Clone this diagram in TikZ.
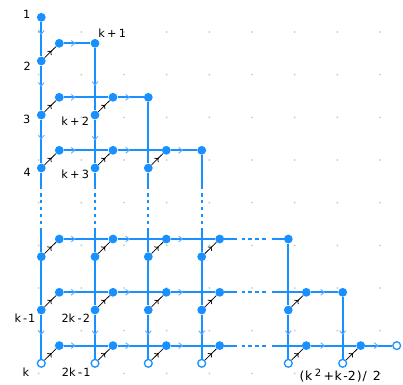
\documentclass[tikz,border=0pt]{standalone}
\usepackage{fontspec}
\setmainfont{DejaVu Sans}
\usetikzlibrary{arrows.meta,decorations.markings}
\definecolor{lineblue}{RGB}{24,144,255}
\definecolor{chevblue}{RGB}{95,172,255}
\definecolor{dotgray}{RGB}{200,200,200}
\pgfdeclarelayer{bg}
\pgfsetlayers{bg,main}
\tikzset{
  dotn/.style={circle,fill=lineblue,inner sep=0pt,minimum size=8.8pt},
  opn/.style={circle,draw=lineblue,fill=white,line width=1.3pt,inner sep=0pt,minimum size=7.8pt},
  bline/.style={draw=lineblue,line width=2.2pt},
  bdash/.style={draw=lineblue,line width=2.2pt,dash pattern=on 3.5pt off 3.4pt},
  diag/.style={draw=black,line width=0.75pt,postaction={decorate},
    decoration={markings,mark=at position 0.62 with {\arrow{To[length=3.5pt,width=6pt]}}}},
  chev/.style={draw=chevblue,line width=0.9pt},
  lab/.style={font=\fontsize{11.3}{11.3}\selectfont,anchor=base,inner sep=0pt},
  chevr/.pic={\draw[chev] (-1.8,-2.9) -- (1.8,0) -- (-1.8,2.9);},
  chevd/.pic={\draw[chev] (-2.9,-1.8) -- (0,1.8) -- (2.9,-1.8);},
}
\begin{document}
\begin{tikzpicture}[x=1pt,y=-1pt]
\useasboundingbox (0,0) rectangle (403,384);
% ---- nodes
\node[dotn] (n1) at (41.3,17.3) {};
\node[dotn] (L20) at (41.3,61) {};
\node[dotn] (U20) at (59.3,43.3) {};
\node[dotn] (E2) at (95,43.3) {};
\node[dotn] (L30) at (41.3,115) {};
\node[dotn] (L31) at (95,115) {};
\node[dotn] (U30) at (59.3,97.3) {};
\node[dotn] (U31) at (113,97.3) {};
\node[dotn] (E3) at (148.3,97.3) {};
\node[dotn] (L40) at (41.3,168) {};
\node[dotn] (L41) at (95,168) {};
\node[dotn] (L42) at (148.3,168) {};
\node[dotn] (U40) at (59.3,150.3) {};
\node[dotn] (U41) at (113,150.3) {};
\node[dotn] (U42) at (166.3,150.3) {};
\node[dotn] (E4) at (201.7,150.3) {};
\foreach \j/\x in {0/41.3,1/95,2/148.3,3/201.7} {
  \node[dotn] (LA\j) at (\x,256.7) {};
  \node[dotn] (UA\j) at (\x+18,239) {};
}
\node[dotn] (EA) at (288.3,239) {};
\foreach \j/\x in {0/41.3,1/95,2/148.3,3/201.7,4/288.3} {
  \node[dotn] (LB\j) at (\x,310) {};
  \node[dotn] (UB\j) at (\x+18,292.3) {};
}
\node[dotn] (EB) at (342.7,292.3) {};
\foreach \j/\x in {0/41.3,1/95,2/148.3,3/201.7,4/288.3,5/342.7} {
  \node[opn] (LC\j) at (\x,363.3) {};
  \node[dotn] (UC\j) at (\x+18,345.6) {};
}
\node[opn] (EC) at (396.7,345.6) {};
% ---- helper coordinates for dotted parts
\foreach \j/\x in {0/41.3,1/95,2/148.3,3/201.7} {
  \coordinate (Va\j) at (\x,189);
  \coordinate (Vb\j) at (\x,193);
  \coordinate (Vc\j) at (\x,224.1);
  \coordinate (Vd\j) at (\x,227.5);
}
\foreach \r/\y in {A/239,B/292.3,C/345.6} {
  \coordinate (Ha\r) at (237,\y);
  \coordinate (Hb\r) at (241.5,\y);
  \coordinate (Hc\r) at (266.3,\y);
  \coordinate (Hd\r) at (271.5,\y);
}
% ---- labels
\node[lab] (t1) at (26.7,18.3) {1};
\node[lab] (t2) at (27.3,70.7) {2};
\node[lab] (t3) at (26.7,123.3) {3};
\node[lab] (t4) at (27.3,176.7) {4};
\node[lab] (tk1) at (112.2,37.7) {k\kern2.3pt+\kern2.3pt1};
\node[lab] (tk2) at (75.2,125) {k\kern2.3pt+\kern2.3pt2};
\node[lab] (tk3) at (75.2,178.3) {k\kern2.3pt+\kern2.3pt3};
\node[lab] (tkm1) at (25,322.3) {k\kern2pt-\kern1pt1};
\node[lab] (t2k2) at (75.8,322.3) {2k\kern2.3pt-\kern1.3pt2};
\node[lab] (tk) at (26,376.7) {k};
\node[lab] (t2k1) at (76.2,376.7) {2k\kern2.3pt-\kern1.3pt1};
\node[lab,anchor=base west,font=\fontsize{12.5}{12.5}\selectfont] (tfin) at (299.5,380.7)
  {(\kern0.5pt k\kern2.5pt\raisebox{4pt}{\fontsize{10}{10}\selectfont 2}\kern2.5pt+\kern0.5pt k\kern1.5pt-2\kern1pt)\kern1pt/\kern6pt2};
% ---- background drawing
\begin{pgfonlayer}{bg}
\foreach \i in {0,...,8} \foreach \j in {0,...,8}
  \fill[dotgray] (38.7+42.67*\i,32+42.67*\j) circle (1);
% columns
\draw[bline] (n1) -- (L20) -- (L30) -- (L40) -- (Va0);
\draw[bline] (E2) -- (L31) -- (L41) -- (Va1);
\draw[bline] (E3) -- (L42) -- (Va2);
\draw[bline] (E4) -- (Va3);
\foreach \j in {0,1,2,3} \draw[bdash] (Vb\j) -- (Vc\j);
\draw[bline] (Vd0) -- (LA0) -- (LB0) -- (LC0);
\draw[bline] (Vd1) -- (LA1) -- (LB1) -- (LC1);
\draw[bline] (Vd2) -- (LA2) -- (LB2) -- (LC2);
\draw[bline] (Vd3) -- (LA3) -- (LB3) -- (LC3);
\draw[bline] (EA) -- (LB4) -- (LC4);
\draw[bline] (EB) -- (LC5);
% rows
\draw[bline] (U20) -- (E2);
\draw[bline] (U30) -- (U31) -- (E3);
\draw[bline] (U40) -- (U41) -- (U42) -- (E4);
\draw[bline] (UA0) -- (UA1) -- (UA2) -- (UA3) -- (HaA);
\draw[bline] (UB0) -- (UB1) -- (UB2) -- (UB3) -- (HaB);
\draw[bline] (UC0) -- (UC1) -- (UC2) -- (UC3) -- (HaC);
\foreach \r in {A,B,C} \draw[bdash] (Hb\r) -- (Hc\r);
\draw[bline] (HdA) -- (EA);
\draw[bline] (HdB) -- (UB4) -- (EB);
\draw[bline] (HdC) -- (UC4) -- (UC5) -- (EC);
% diagonal arrows
\draw[diag] (L20) -- (U20);
\draw[diag] (L30) -- (U30);
\draw[diag] (L31) -- (U31);
\draw[diag] (L40) -- (U40);
\draw[diag] (L41) -- (U41);
\draw[diag] (L42) -- (U42);
\foreach \j in {0,1,2,3} \draw[diag] (LA\j) -- (UA\j);
\foreach \j in {0,...,4} \draw[diag] (LB\j) -- (UB\j);
\foreach \j in {0,...,5} \draw[diag] (LC\j) -- (UC\j);
% chevrons
\pic at (73,43.3) {chevr};
\foreach \x in {73,127.5} \pic at (\x,97.3) {chevr};
\foreach \x in {73,127.5,180.5} \pic at (\x,150.3) {chevr};
\foreach \x in {73,127.5,180.5} \pic at (\x,239) {chevr};
\foreach \x in {73,127.5,180.5,322.5} \pic at (\x,292.3) {chevr};
\foreach \x in {73,127.5,180.5,322.5,376} \pic at (\x,345.6) {chevr};
\foreach \y in {32.3,84.3,137} \pic at (41.3,\y) {chevd};
\foreach \y in {83.3,138} \pic at (95,\y) {chevd};
\foreach \x in {41.3,95,148.3,201.7,288.3,342.7} \pic at (\x,332.5) {chevd};
\end{pgfonlayer}
\end{tikzpicture}
\end{document}
